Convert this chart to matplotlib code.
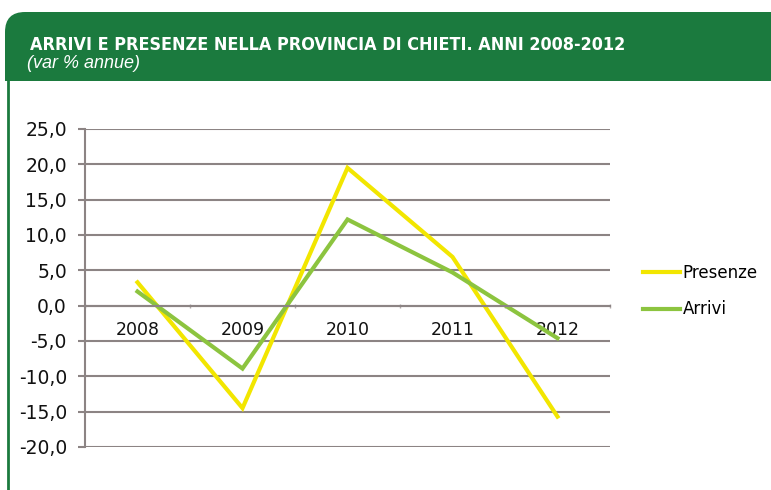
import matplotlib.pyplot as plt
from matplotlib.patches import FancyBboxPatch, Rectangle
from matplotlib.ticker import FuncFormatter

anni = ["2008", "2009", "2010", "2011", "2012"]
presenze = [3.3, -14.5, 19.5, 6.9, -15.7]
arrivi = [2.0, -8.9, 12.2, 4.7, -4.6]
y_ticks = [-20, -15, -10, -5, 0, 5, 10, 15, 20, 25]

titolo = "ARRIVI E PRESENZE NELLA PROVINCIA DI CHIETI. ANNI 2008-2012"
sottotitolo = "(var % annue)"

verde = "#1b7a3e"
griglia = "#8c8484"

fig = plt.figure(figsize=(7.71, 4.9), dpi=100)
fig.patch.set_facecolor("white")

# header and frame, drawn in pixel coordinates
bg = fig.add_axes([0, 0, 1, 1])
bg.set_xlim(0, 771)
bg.set_ylim(490, 0)
bg.axis("off")
bg.add_patch(FancyBboxPatch((5, 12), 800, 69, boxstyle="round,pad=0,rounding_size=20",
                            facecolor=verde, edgecolor="none"))
bg.add_patch(Rectangle((5, 50), 800, 31, facecolor=verde, edgecolor="none"))
bg.plot([8, 8], [81, 490], color=verde, lw=2)
bg.text(30, 45, titolo, color="white", fontsize=12.9, fontweight="bold",
        family="DejaVu Sans", fontstretch="condensed", va="center", ha="left")
bg.text(27, 64, sottotitolo, color="white", fontsize=13, style="italic",
        family=["Liberation Sans", "DejaVu Sans"], va="center", ha="left")

ax = fig.add_axes([85 / 771, 1 - 447 / 490, 525 / 771, 318 / 490])
x = list(range(len(anni)))
ax.plot(x, presenze, color="#f2e600", lw=3, label="Presenze", solid_joinstyle="miter")
ax.plot(x, arrivi, color="#8cc43f", lw=3, label="Arrivi", solid_joinstyle="miter")

ax.set_xlim(-0.5, 4.5)
ax.set_ylim(-20, 25)
ax.set_yticks(y_ticks)
ax.yaxis.set_major_formatter(FuncFormatter(lambda v, p: f"{v:.1f}".replace(".", ",")))
ax.grid(axis="y", color=griglia, lw=1.5)
ax.set_axisbelow(True)

for s in ["top", "right"]:
    ax.spines[s].set_visible(False)
ax.spines["left"].set_color(griglia)
ax.spines["left"].set_linewidth(1.5)
ax.spines["bottom"].set_position(("data", 0))
ax.spines["bottom"].set_color(griglia)
ax.spines["bottom"].set_linewidth(1.5)

ax.set_xticks(x)
ax.set_xticklabels(anni)
ax.set_xticks([-0.5, 0.5, 1.5, 2.5, 3.5, 4.5], minor=True)
ax.tick_params(axis="x", which="major", length=0, pad=11, labelsize=12.5, colors="#111111")
ax.tick_params(axis="x", which="minor", length=3, direction="inout", color="#b0a8a8", width=1)
ax.tick_params(axis="y", length=5, width=1.5, color=griglia, pad=8, labelsize=13.5, labelcolor="#111111")

ax.legend(loc="center left", bbox_to_anchor=(1.035, 0.49), frameon=False, fontsize=12,
          handlelength=2.2, handletextpad=0.15, labelspacing=1.1)

fig.savefig("out.png", dpi=100)
